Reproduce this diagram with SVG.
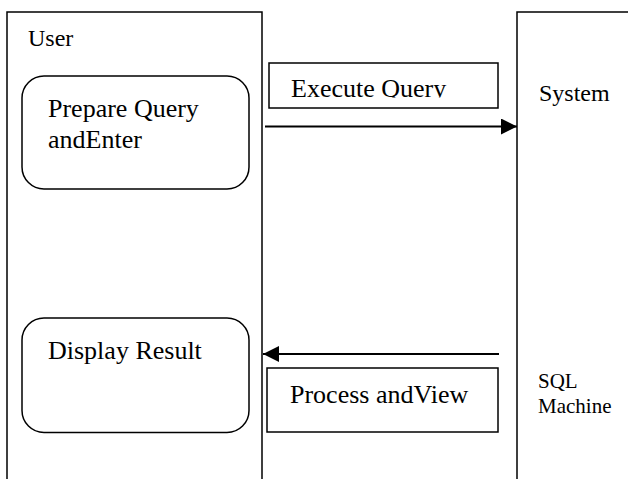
<svg xmlns="http://www.w3.org/2000/svg" width="628" height="479" viewBox="0 0 628 479">
<style>
.lane{fill:none;stroke:#000;stroke-width:1.5}
.box{fill:#fff;stroke:#000;stroke-width:1.5}
.conn{fill:none;stroke:#000;stroke-width:2}
text{font-family:"Liberation Serif","Times New Roman",serif;fill:#000}
.big{font-size:26px}
.lbl{font-size:24px}
.sm{font-size:21px}
</style>
<defs>
<marker id="ah" viewBox="0 0 16 16" refX="16" refY="8" markerWidth="16" markerHeight="16" markerUnits="userSpaceOnUse" orient="auto">
<path d="M0,0 L16,8 L0,16 Z" fill="#000"/>
</marker>
<clipPath id="execClip"><rect x="270" y="64" width="228" height="33.5"/></clipPath>
</defs>
<g id="lane-user">
<path class="lane" d="M7,479 V12 H262 V479"/>
<text class="lbl" x="28" y="46">User</text>
</g>
<g id="lane-system">
<path class="lane" d="M517,479 V12 H628"/>
<text class="lbl" x="539" y="101">System</text>
<text class="sm" x="538" y="388">SQL</text>
<text class="sm" x="538" y="413">Machine</text>
</g>
<g id="node-prepare">
<rect class="box" x="22" y="76" width="227" height="113" rx="22"/>
<text class="big" x="48" y="117">Prepare Query</text>
<text class="big" x="48" y="148">andEnter</text>
</g>
<g id="node-display">
<rect class="box" x="22" y="318" width="227" height="114.5" rx="22"/>
<text class="big" x="48" y="359">Display Result</text>
</g>
<g id="node-execute">
<rect class="box" x="269" y="63" width="229" height="45"/>
<text class="big" x="291" y="96.5" clip-path="url(#execClip)">Execute Query</text>
</g>
<g id="node-process">
<rect class="box" x="267" y="368" width="231" height="64"/>
<text class="big" x="290" y="403">Process andView</text>
</g>
<g id="connectors">
<line class="conn" x1="265" y1="126.5" x2="517" y2="126.5" marker-end="url(#ah)"/>
<line class="conn" x1="499" y1="354" x2="263" y2="354" marker-end="url(#ah)"/>
</g>
</svg>
